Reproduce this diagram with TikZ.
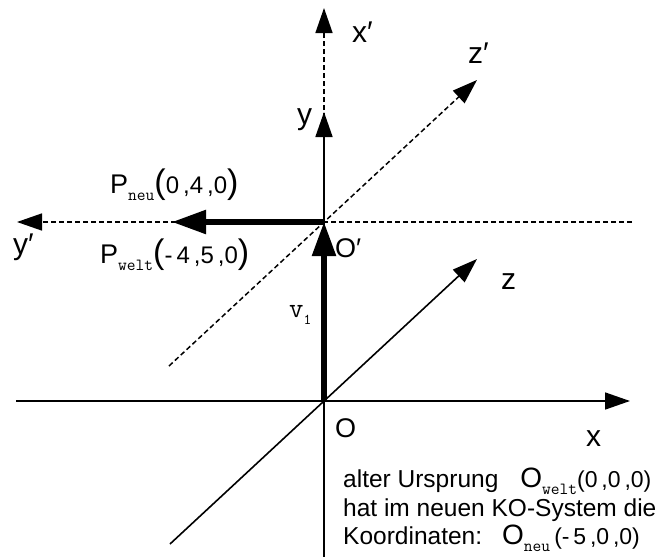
\documentclass[tikz,border=0pt]{standalone}
\usepackage{fontspec}
\setmainfont{Liberation Sans}
\usetikzlibrary{arrows.meta}

\newcommand{\fsz}[1]{\fontsize{#1}{#1}\selectfont}
\newcommand{\idx}[1]{\raisebox{-7pt}{\ttfamily\fsz{17}#1}}
\newcommand{\bigpar}[1]{{\fsz{34}#1}}

\begin{document}
\begin{tikzpicture}[
    x=1pt, y=-1pt,
    axis/.style={line width=1.6pt, -{Triangle[length=25pt,width=17pt]}},       % world axes
    axisdash/.style={line width=1.5pt, dash pattern=on 5pt off 3pt,
                     -{Triangle[length=25pt,width=17pt]}},                     % new axes
    vec/.style={line width=5.5pt, -{Triangle[length=34pt,width=23pt]}},         % vectors
    lbl/.style={inner sep=0pt, anchor=base west, font=\fsz{30}},
    olbl/.style={inner sep=0pt, anchor=base west, font=\fsz{27}},
    txt/.style={inner sep=0pt, anchor=base west, font=\fsz{24.5}},
  ]
  \useasboundingbox (0,0) rectangle (667,557);

  % ---- coordinates (pixels of the sketch) ----
  \coordinate (O)   at (324,401);   % old origin
  \coordinate (Op)  at (324,222);   % new origin
  \coordinate (xL)  at ( 16,401);
  \coordinate (xR)  at (630,401);
  \coordinate (yB)  at (324,557);
  \coordinate (yT)  at (324,112);
  \coordinate (zB)  at (170,544);
  \coordinate (zT)  at (477,259);
  \coordinate (xpT) at (324,  8);
  \coordinate (ypR) at (632,222);
  \coordinate (ypL) at ( 17,222);
  \coordinate (zpB) at (169,366);
  \coordinate (zpT) at (477, 80);
  \coordinate (P)   at (172,222);   % point P

  % ---- new system (dashed) ----
  \draw[axisdash] (Op)  -- (xpT);
  \draw[axisdash] (ypR) -- (ypL);
  \draw[axisdash] (zpB) -- (zpT);

  % ---- world system ----
  \draw[axis] (xL) -- (xR);
  \draw[axis] (yB) -- (yT);
  \draw[axis] (zB) -- (zT);

  % ---- vectors ----
  \draw[vec] (O)  -- (Op);
  \draw[vec] (Op) -- (P);

  % ---- axis labels ----
  \node[lbl]  (xplbl) at (352, 42) {x′};
  \node[lbl]  (zplbl) at (468, 63) {z′};
  \node[lbl]  (ylbl)  at (297,124) {y};
  \node[lbl]  (yplbl) at ( 13,254) {y′};
  \node[lbl]  (zlbl)  at (501,289) {z};
  \node[lbl]  (xlbl)  at (586,446) {x};
  \node[olbl] (Oplbl) at (335,257) {O′};
  \node[olbl] (Olbl)  at (335,437) {O};
  \node[lbl, font=\ttfamily\fsz{28}] (vlbl) at (289,317) {v\idx{\fsz{15}1}};

  % ---- point labels ----
  \node[olbl] (Pneu)  at (110,193)
    {P\idx{neu}\bigpar{(}{\fsz{24}0\,,4\,,0}\bigpar{)}};
  \node[olbl] (Pwelt) at (100,263)
    {P\idx{welt}\bigpar{(}{\fsz{24}-\,4\,,5\,,0}\bigpar{)}};

  % ---- note ----
  \node[txt] (txtA) at (343,487)
    {alter Ursprung\hspace{22pt}{\fsz{28}O}\idx{welt}{\fsz{23}(0\,,0\,,0)}};
  \node[txt] (txtB) at (343,516) {hat im neuen KO-System die};
  \node[txt] (txtC) at (343,544)
    {Koordinaten:\hspace{20pt}{\fsz{28}O}\idx{neu}\,{\fsz{23}(-\,5\,,0\,,0)}};

\end{tikzpicture}
\end{document}
